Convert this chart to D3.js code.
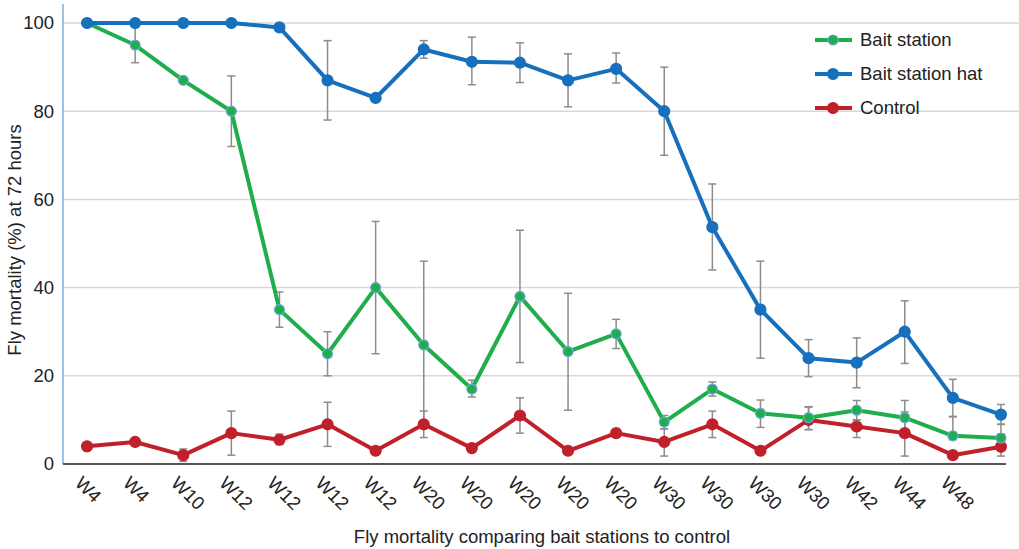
<!DOCTYPE html>
<html>
<head>
<meta charset="utf-8">
<script src="https://cdn.jsdelivr.net/npm/d3@7"></script>
<style>
  body { margin: 0; background: #fff; }
  svg { display: block; font-family: "Liberation Sans", Arial, sans-serif; }
</style>
</head>
<body>
<svg id="chart" width="1019" height="549"></svg>
<script>
// Sampling weeks (last sample has no label)
const categories = ["W4","W4","W10","W12","W12","W12","W12","W20","W20","W20","W20","W20","W30","W30","W30","W30","W42","W44","W48",""];

const baitStation     = [100, 95, 87, 80, 35, 25, 40, 27, 17, 38, 25.5, 29.5, 9.5, 17, 11.5, 10.5, 12.2, 10.5, 6.4, 5.9];
const baitStationLow  = [100, 91, 86.5, 72, 31, 20, 25, 8, 15.2, 23, 12.2, 26.2, 8, 15.4, 8.3, 7.8, 10, 7, 5.5, 5];
const baitStationHigh = [100, 99, 87.5, 88, 39, 30, 55, 46, 19, 53, 38.7, 32.8, 11, 18.6, 14.5, 12.9, 14.4, 14.4, 10.7, 6.8];

const baitHat     = [100, 100, 100, 100, 99, 87, 83, 94, 91.2, 91, 87, 89.6, 80, 53.7, 35, 24, 23, 30, 15, 11.2];
const baitHatLow  = [100, 100, 100, 100, 98.2, 78, 82.2, 92, 86, 86.5, 81, 86.4, 70, 44, 24, 19.8, 17.3, 22.8, 10.8, 9];
const baitHatHigh = [100, 100, 100, 100, 99.8, 96, 83.8, 96, 96.8, 95.5, 93, 93.2, 90, 63.5, 46, 28.2, 28.6, 37, 19.2, 13.5];

const control     = [4, 5, 2, 7, 5.5, 9, 3, 9, 3.6, 11, 3, 7, 5, 9, 3, 10, 8.5, 7, 2, 3.9];
const controlLow  = [3.3, 4.4, 0.6, 2, 4.4, 4, 2.5, 6, 3, 7, 2.5, 6.2, 1.8, 6, 2.5, 7.8, 6, 1.8, 1.2, 1.8];
const controlHigh = [4.7, 5.6, 3.4, 12, 6.8, 14, 3.5, 12, 4.2, 15, 3.5, 7.8, 8, 12, 3.5, 13, 10, 11.8, 2.8, 9];

const yTicks = [0, 20, 40, 60, 80, 100];

const series = [
  { name: "Bait station",     values: baitStation, low: baitStationLow, high: baitStationHigh, color: "#20ad4b", stroke: "#6fa6de", r: 5 },
  { name: "Bait station hat", values: baitHat,     low: baitHatLow,     high: baitHatHigh,     color: "#1670bd", stroke: "#1670bd", r: 5.5 },
  { name: "Control",          values: control,     low: controlLow,     high: controlHigh,     color: "#c0202a", stroke: "#c0202a", r: 5.5 }
];

const FS = 18.5;
const svg = d3.select("#chart");
const plotLeft = 63, plotRight = 1025, plotTop = 23, plotBottom = 464;

const x = d3.scaleBand().domain(d3.range(categories.length)).range([plotLeft, plotRight]);
const cx = i => x(i) + x.bandwidth() / 2;
const y = d3.scaleLinear().domain([0, 100]).range([plotBottom, plotTop]);

// Horizontal gridlines
svg.append("g").selectAll("line").data(yTicks.filter(t => t > 0)).join("line")
  .attr("x1", plotLeft).attr("x2", 1019)
  .attr("y1", d => y(d)).attr("y2", d => y(d))
  .attr("stroke", "#d9d9d9").attr("stroke-width", 1.5);

// Y axis
const yAxis = svg.append("g").attr("transform", `translate(${plotLeft},0)`)
  .call(d3.axisLeft(y).tickValues(yTicks).tickSize(0).tickPadding(9));
yAxis.select(".domain").remove();
yAxis.selectAll("text").attr("font-size", FS).attr("fill", "#222").attr("font-family", "Liberation Sans, Arial, sans-serif");
svg.append("line").attr("x1", plotLeft).attr("x2", plotLeft).attr("y1", 4).attr("y2", plotBottom)
  .attr("stroke", "#5b9bd5").attr("stroke-width", 1.2);

// X axis
const xAxis = svg.append("g").attr("transform", `translate(0,${plotBottom})`)
  .call(d3.axisBottom(x).tickFormat(i => categories[i]).tickSize(0));
xAxis.select(".domain").remove();
svg.append("line").attr("x1", plotLeft).attr("x2", 1006).attr("y1", plotBottom).attr("y2", plotBottom)
  .attr("stroke", "#555").attr("stroke-width", 2);
xAxis.selectAll(".tick").attr("transform", (d) => `translate(${cx(d) - 4},${11})`);
xAxis.selectAll("text")
  .attr("y", 0).attr("x", 0).attr("dy", "0.7em")
  .attr("text-anchor", "start")
  .attr("transform", "rotate(45)")
  .attr("font-size", FS).attr("fill", "#222")
  .attr("font-family", "Liberation Sans, Arial, sans-serif");

// Axis titles
svg.append("text").attr("x", 542).attr("y", 543).attr("text-anchor", "middle")
  .attr("font-size", FS).attr("fill", "#222").text("Fly mortality comparing bait stations to control");
svg.append("text").attr("transform", "translate(21,240) rotate(-90)").attr("text-anchor", "middle")
  .attr("font-size", FS).attr("fill", "#222").text("Fly mortality (%) at 72 hours");

// Error bars
const errG = svg.append("g");
series.forEach(s => {
  const g = errG.append("g");
  s.values.forEach((v, i) => {
    if (s.high[i] - s.low[i] < 0.3) return;
    g.append("line").attr("x1", cx(i)).attr("x2", cx(i)).attr("y1", y(s.low[i])).attr("y2", y(s.high[i]))
      .attr("stroke", "#8c8c8c").attr("stroke-width", 1.5);
    [s.low[i], s.high[i]].forEach(e => g.append("line")
      .attr("x1", cx(i) - 4).attr("x2", cx(i) + 4).attr("y1", y(e)).attr("y2", y(e))
      .attr("stroke", "#8c8c8c").attr("stroke-width", 1.5));
  });
});

// Lines and markers
const line = d3.line().x((d, i) => cx(i)).y(d => y(d));
[series[2], series[0], series[1]].forEach(s => {
  svg.append("path").datum(s.values).attr("d", line)
    .attr("fill", "none").attr("stroke", s.color).attr("stroke-width", 4).attr("stroke-linejoin", "round");
  svg.append("g").selectAll("circle").data(s.values).join("circle")
    .attr("cx", (d, i) => cx(i)).attr("cy", d => y(d)).attr("r", s.r)
    .attr("fill", s.color).attr("stroke", s.stroke).attr("stroke-width", 1.2);
});

// Legend
const legend = svg.append("g");
series.forEach((s, k) => {
  const ly = 40 + k * 34;
  legend.append("line").attr("x1", 815).attr("x2", 852).attr("y1", ly).attr("y2", ly)
    .attr("stroke", s.color).attr("stroke-width", 4);
  legend.append("circle").attr("cx", 833).attr("cy", ly).attr("r", s.r)
    .attr("fill", s.color).attr("stroke", s.stroke).attr("stroke-width", 1.2);
  legend.append("text").attr("x", 860).attr("y", ly).attr("dy", "0.35em")
    .attr("font-size", FS).attr("fill", "#222").text(s.name);
});
</script>
</body>
</html>
